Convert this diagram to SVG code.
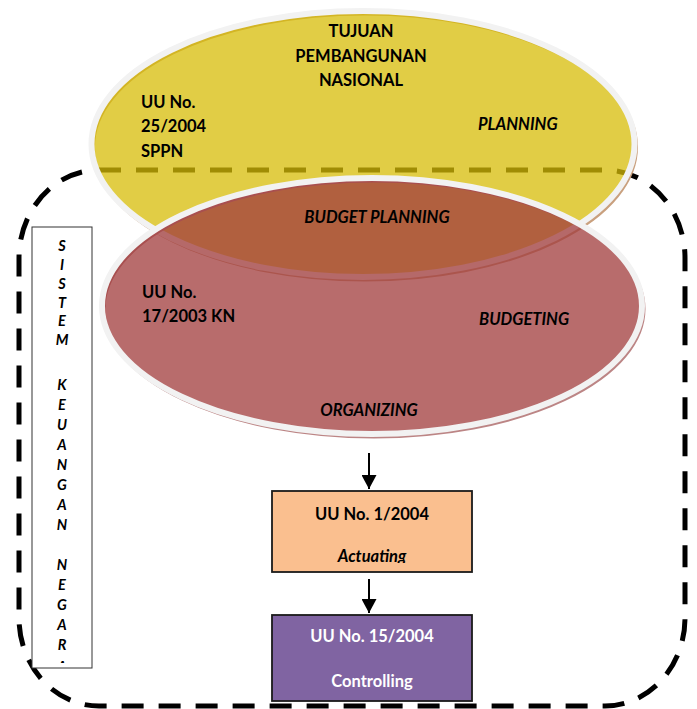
<svg xmlns="http://www.w3.org/2000/svg" width="697" height="709" viewBox="0 0 697 709">
<style>
.t{font-family:Lato,"Liberation Sans",sans-serif;font-weight:bold;font-size:16.5px;fill:#000}
.i{font-style:italic}
.m{text-anchor:middle}
.w{fill:#fff}
.v{font-family:Lato,"Liberation Sans",sans-serif;font-weight:bold;font-style:italic;font-size:14.5px;text-anchor:middle;fill:#000}
.rim{stroke:#F2F2F2;stroke-width:6}
.box{stroke:#1a1a1a;stroke-width:1.8}
.conn{stroke:#000;stroke-width:2;fill:none}
</style>
<defs>
<marker id="ah" markerWidth="14" markerHeight="15" refX="14" refY="7.5" orient="auto" markerUnits="userSpaceOnUse" viewBox="0 0 14 15">
<path d="M0,0 L14,7.5 L0,15 Z" fill="#000"/>
</marker>
<clipPath id="clipSide"><rect x="32" y="227" width="60" height="436"/></clipPath>
<clipPath id="clipAct"><rect x="272" y="491" width="200" height="72"/></clipPath>
</defs>

<g id="boundary">
<rect x="19" y="170" width="666" height="536" rx="80" ry="88" fill="none" stroke="#000" stroke-width="5" stroke-dasharray="22 15"/>
</g>

<g id="planning">
<ellipse cx="365" cy="147" rx="271.5" ry="133" fill="none" stroke="#C9A07E" stroke-width="3"/>
<ellipse cx="363" cy="144" rx="271.5" ry="133" fill="#D7BC05" fill-opacity="0.745" class="rim"/>
</g>

<g id="budgeting">
<ellipse cx="374" cy="309" rx="270" ry="128" fill="none" stroke="#BC8585" stroke-width="3"/>
<ellipse cx="372" cy="306" rx="270" ry="128" fill="#A23E3E" fill-opacity="0.76" class="rim"/>
</g>

<g id="planning-text">
<text class="t m" x="361" y="37">TUJUAN</text>
<text class="t m" x="361" y="62">PEMBANGUNAN</text>
<text class="t m" x="361" y="86">NASIONAL</text>
<text class="t" x="141" y="108">UU No.</text>
<text class="t" x="141" y="132">25/2004</text>
<text class="t" x="141" y="157">SPPN</text>
<text class="t i" x="478" y="130">PLANNING</text>
</g>

<g id="budgeting-text">
<text class="t i m" x="377" y="223">BUDGET PLANNING</text>
<text class="t" x="142" y="298">UU No.</text>
<text class="t" x="142" y="322">17/2003 KN</text>
<text class="t i" x="479" y="325">BUDGETING</text>
<text class="t i m" x="369" y="416">ORGANIZING</text>
</g>

<g id="side-label">
<rect x="32" y="227" width="60" height="441" fill="#fff" stroke="#333" stroke-width="1"/>
<g clip-path="url(#clipSide)">
<text class="v" x="62" y="251">S</text>
<text class="v" x="62" y="270">I</text>
<text class="v" x="62" y="289">S</text>
<text class="v" x="62" y="308">T</text>
<text class="v" x="62" y="326">E</text>
<text class="v" x="62" y="345">M</text>
<text class="v" x="62" y="390">K</text>
<text class="v" x="62" y="410">E</text>
<text class="v" x="62" y="430">U</text>
<text class="v" x="62" y="450">A</text>
<text class="v" x="62" y="470">N</text>
<text class="v" x="62" y="490">G</text>
<text class="v" x="62" y="510">A</text>
<text class="v" x="62" y="530">N</text>
<text class="v" x="62" y="570">N</text>
<text class="v" x="62" y="590">E</text>
<text class="v" x="62" y="610">G</text>
<text class="v" x="62" y="630">A</text>
<text class="v" x="62" y="650">R</text>
<text class="v" x="62" y="672">A</text>
</g>
</g>

<g id="actuating">
<rect class="box" x="272" y="491" width="200" height="81" fill="#FABF8F"/>
<text class="t m" x="372" y="520">UU No. 1/2004</text>
<text class="t i m" x="372" y="562" clip-path="url(#clipAct)">Actuating</text>
</g>

<g id="controlling">
<rect class="box" x="272" y="615" width="200" height="86" fill="#8064A2"/>
<text class="t m w" x="372" y="642">UU No. 15/2004</text>
<text class="t m w" x="372" y="687">Controlling</text>
</g>

<g id="connectors">
<line class="conn" x1="369" y1="453" x2="369" y2="489" marker-end="url(#ah)"/>
<line class="conn" x1="369" y1="579" x2="369" y2="613" marker-end="url(#ah)"/>
</g>
</svg>
